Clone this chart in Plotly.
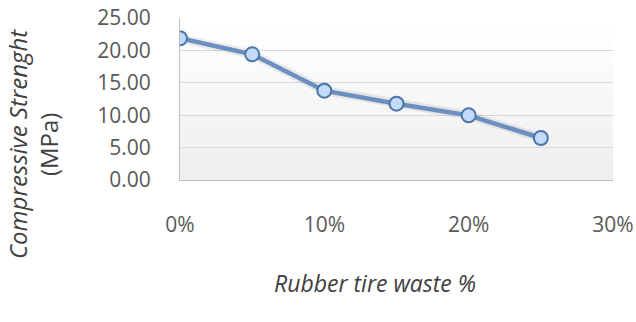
import plotly.graph_objects as go

waste = [0.00, 0.05, 0.10, 0.15, 0.20, 0.25]
strength = [21.87, 19.40, 13.78, 11.78, 9.98, 6.48]
x_ticks = [0.0, 0.1, 0.2, 0.3]
y_ticks = [0, 5, 10, 15, 20, 25]

fig = go.Figure()

# soft shadow under the line
fig.add_trace(go.Scatter(x=waste, y=strength, mode="lines",
                         line=dict(color="rgba(0,0,0,0.07)", width=9),
                         hoverinfo="skip", showlegend=False))
fig.add_trace(go.Scatter(x=waste, y=strength, mode="lines+markers",
                         line=dict(color="#6A8FC0", width=4.5),
                         marker=dict(size=14, color="#C3DAF8",
                                     line=dict(color="#4A76AC", width=2)),
                         showlegend=False))

# gradient plot background
n = 24
shapes = []
for i in range(n):
    t = i / (n - 1)
    c = int(round(238 + (255 - 238) * t))
    shapes.append(dict(type="rect", xref="x domain", yref="y domain",
                       x0=0, x1=1, y0=i / n, y1=(i + 1) / n,
                       fillcolor=f"rgb({c},{c},{c})", line=dict(width=0),
                       layer="below"))

fig.update_layout(
    width=636, height=322,
    margin=dict(l=180, r=23, t=18, b=142),
    paper_bgcolor="white", plot_bgcolor="white",
    shapes=shapes,
    font=dict(family="Open Sans", color="#595959"),
    annotations=[
        dict(text="<i>Compressive Strenght</i><br>(MPa)",
             xref="paper", yref="paper", x=-0.338, y=0.22, xanchor="center",
             yanchor="middle", textangle=-90, showarrow=False,
             font=dict(size=24, color="#404040", family="Open Sans")),
        dict(text="<i>Rubber tire waste %</i>",
             xref="paper", yref="paper", x=0.45, y=-0.636, xanchor="center",
             yanchor="middle", showarrow=False,
             font=dict(size=23, color="#404040", family="Open Sans")),
    ],
)
fig.update_xaxes(range=[0, 0.30], tickvals=x_ticks, tickformat=".0%",
                 showgrid=False, zeroline=False, showline=True,
                 linecolor="#BFBFBF", linewidth=1, ticks="", automargin=False,
                 ticklabelstandoff=26, tickfont=dict(size=21, color="#595959"))
fig.update_yaxes(range=[0, 25], tickvals=y_ticks, tickformat=".2f",
                 showgrid=True, gridcolor="#D9D9D9", gridwidth=1,
                 zeroline=False, showline=True, linecolor="#BFBFBF",
                 linewidth=1, ticks="", ticklabelstandoff=24, automargin=False,
                 tickfont=dict(size=21, color="#595959"))

fig.write_html("out.html")
